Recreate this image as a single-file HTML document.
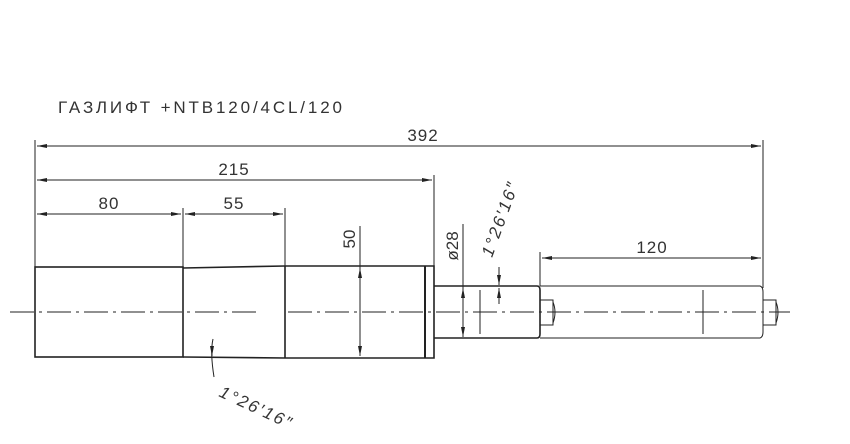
<!DOCTYPE html><html><head><style>body{margin:0;background:#fff}svg{display:block}text{font-family:"Liberation Sans",sans-serif;fill:#333}</style></head><body>
<svg width="850" height="444" viewBox="0 0 850 444" xmlns="http://www.w3.org/2000/svg">
<defs><marker id="a" viewBox="0 0 10 4" refX="10" refY="2" markerWidth="10" markerHeight="4" orient="auto-start-reverse" markerUnits="userSpaceOnUse"><path d="M0,0L10,2L0,4z" fill="#222"/></marker></defs>
<text x="58" y="113" font-size="17" letter-spacing="3" textLength="287" lengthAdjust="spacing">ГАЗЛИФТ  +NTB120/4CL/120</text>
<g stroke="#222" fill="none" stroke-width="1">
<line x1="35" y1="140" x2="35" y2="267"/>
<line x1="183" y1="208" x2="183" y2="268"/>
<line x1="285" y1="208" x2="285" y2="266"/>
<line x1="434" y1="175" x2="434" y2="266"/>
<line x1="763" y1="140" x2="763" y2="288"/>
<line x1="540" y1="252" x2="540" y2="286"/>
<line x1="37" y1="146" x2="761" y2="146" marker-start="url(#a)" marker-end="url(#a)"/>
<line x1="37" y1="180" x2="432" y2="180" marker-start="url(#a)" marker-end="url(#a)"/>
<line x1="37" y1="214" x2="181" y2="214" marker-start="url(#a)" marker-end="url(#a)"/>
<line x1="185" y1="214" x2="283" y2="214" marker-start="url(#a)" marker-end="url(#a)"/>
<line x1="542" y1="258" x2="761" y2="258" marker-start="url(#a)" marker-end="url(#a)"/>
<line x1="360" y1="226" x2="360" y2="268"/>
<line x1="360" y1="268" x2="360" y2="356" marker-start="url(#a)" marker-end="url(#a)"/>
<line x1="463" y1="224" x2="463" y2="288"/>
<line x1="463" y1="288" x2="463" y2="337" marker-start="url(#a)" marker-end="url(#a)"/>
<line x1="499" y1="267" x2="499" y2="285" marker-end="url(#a)"/>
<line x1="499" y1="304" x2="499" y2="288" marker-end="url(#a)"/>
<path d="M213,339 Q210,352 214,377"/>
<line x1="212" y1="346" x2="212" y2="356" marker-end="url(#a)"/>
<g stroke-width="1.6">
<rect x="35" y="267" width="148" height="90"/>
<path d="M183,268 L285,266 L434,266 L434,358 L285,358 L183,357"/>
<line x1="285" y1="266" x2="285" y2="358"/>
<line x1="425" y1="266" x2="425" y2="358" stroke-width="2"/>
<path d="M434,286 L537,286 Q540,286 540,290 L540,334 Q540,338 537,338 L434,338"/>
</g>
<path d="M540,286 L760,286 Q763,287 763,292 L763,332 Q763,337 760,338 L540,338"/>
<rect x="540" y="300" width="13" height="25"/><path d="M553,302 Q557,312 553,323"/>
<rect x="763" y="300" width="13" height="25"/><path d="M776,302 Q780,312 776,323"/>
<line x1="480" y1="290" x2="480" y2="334"/>
<line x1="703" y1="290" x2="703" y2="334"/>
<path d="M10,312 H257" stroke-dasharray="24,5,3,5" stroke-width="0.9"/>
<path d="M288,312 H790" stroke-dasharray="24,5,3,5" stroke-width="0.9"/>
</g>
<text x="423" y="141" font-size="17" text-anchor="middle" letter-spacing="1">392</text>
<text x="234" y="175" font-size="17" text-anchor="middle" letter-spacing="1">215</text>
<text x="109" y="209" font-size="17" text-anchor="middle" letter-spacing="1">80</text>
<text x="234" y="209" font-size="17" text-anchor="middle" letter-spacing="1">55</text>
<text x="652" y="253" font-size="17" text-anchor="middle" letter-spacing="1">120</text>
<text transform="translate(355,239) rotate(-90)" font-size="17" text-anchor="middle">50</text>
<text transform="translate(458,246) rotate(-90)" font-size="17" text-anchor="middle">ø28</text>
<text transform="translate(492,258) rotate(-70)" font-size="17" font-style="italic" letter-spacing="2">1°26′16″</text>
<text transform="translate(218,396) rotate(25)" font-size="17" font-style="italic" letter-spacing="2">1°26′16″</text>
</svg></body></html>
